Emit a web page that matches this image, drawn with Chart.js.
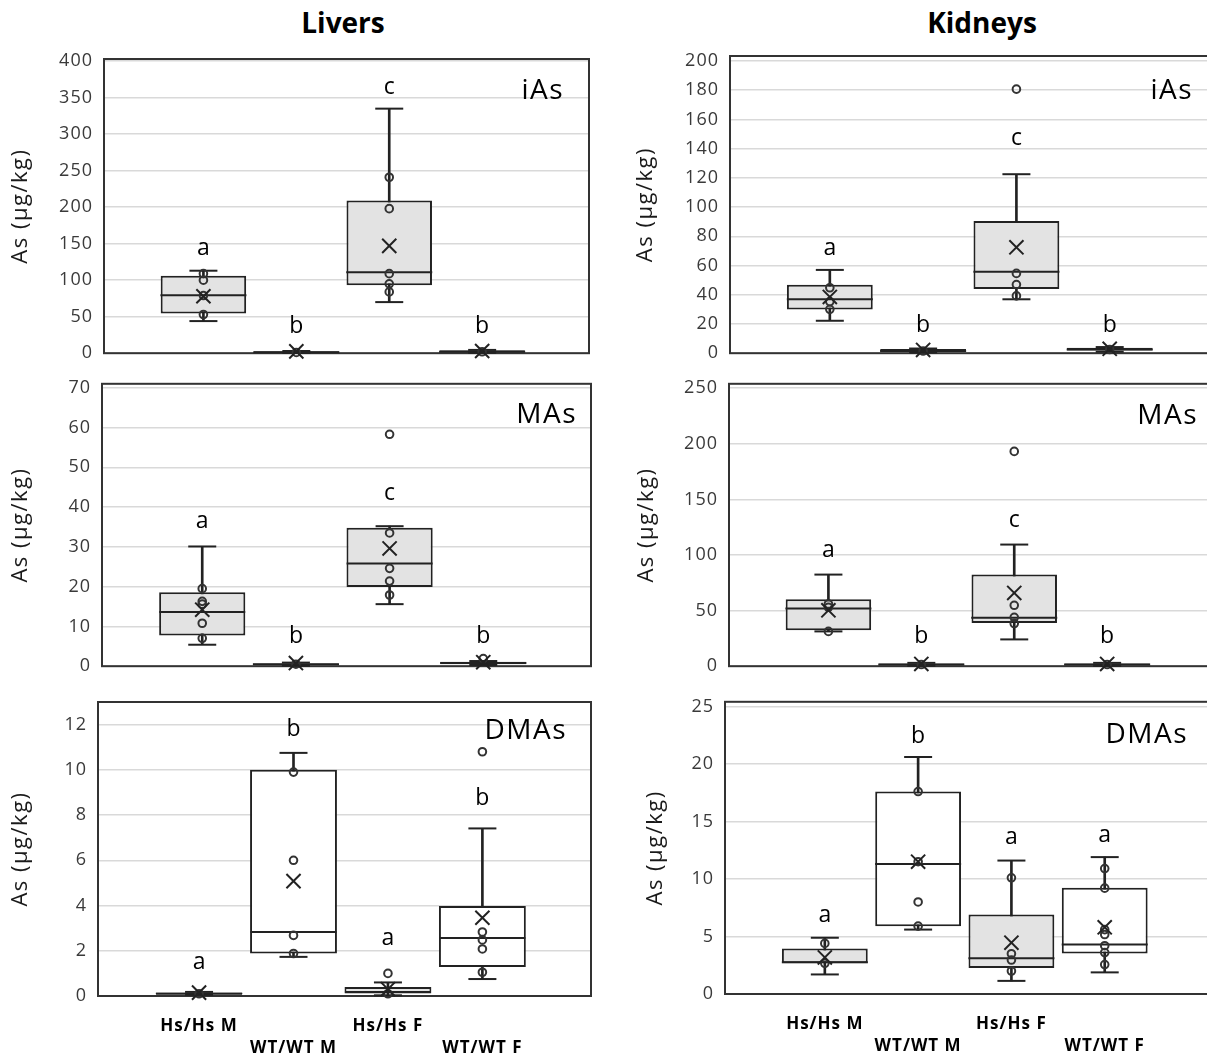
<!DOCTYPE html>
<html>
<head>
<meta charset="utf-8">
<script src="https://cdn.jsdelivr.net/npm/chart.js"></script>
<style>
html,body{margin:0;padding:0;background:#fff;}
#wrap{position:relative;width:1207px;height:1059px;overflow:hidden;background:#fff;}
canvas{position:absolute;}
.ttl{position:absolute;font-family:'Open Sans';font-weight:700;font-size:28px;line-height:28px;width:300px;text-align:center;color:#000;}
</style>
</head>
<body>
<div id="wrap">
  <div class="ttl" style="left:193px;top:8px">Livers</div>
  <div class="ttl" style="left:832px;top:8px">Kidneys</div>
  <canvas id="c1"></canvas><canvas id="c2"></canvas><canvas id="c3"></canvas>
  <canvas id="c4"></canvas><canvas id="c5"></canvas><canvas id="c6"></canvas>
</div>
<script>
// ---------- data ----------
const categories = ['Hs/Hs M', 'WT/WT M', 'Hs/Hs F', 'WT/WT F'];
const yTitle = 'As (µg/kg)';

// box summaries per group: [min, q1, median, q3, max]
const liversIAsBox = [[44,54.5,79.5,106,113],[0.3,0.8,1.2,2.5,3],[70,93,111,209,335],[0.5,1,2,4,4.5]];
const liversIAsMean = [78, 2.5, 147, 3];
const liversIAsPoints = [[109,100,79,53],[1],[241,198,109,95,84],[2]];
const liversIAsLetters = ['a','b','c','b'];
const liversIAsLetterY = [143,36,364,36];

const liversMAsBox = [[5.4,7.7,13.6,18.6,30.1],[0.1,0.25,0.5,0.7,0.9],[15.6,19.9,25.8,34.8,35.2],[0.3,0.5,0.8,1.1,1.3]];
const liversMAsMean = [14.2, 0.8, 29.6, 1];
const liversMAsPoints = [[19.5,16.3,15.6,10.8,7.0],[0.5],[58.3,33.5,24.6,21.4,17.9],[1.9]];
const liversMAsLetters = ['a','b','c','b'];
const liversMAsLetterY = [36.5,7.4,43.5,7.4];

const liversDMAsBox = [[0.05,0.08,0.1,0.16,0.18],[1.73,1.88,2.83,10.0,10.75],[0.03,0.11,0.18,0.4,0.6],[0.75,1.28,2.56,3.98,7.41]];
const liversDMAsMean = [0.15, 5.08, 0.3, 3.46];
const liversDMAsPoints = [[0.1],[9.9,6.0,2.68,1.88],[1.0,0.1],[10.8,2.83,2.48,2.08,1.05]];
const liversDMAsLetters = ['a','b','a','b'];
const liversDMAsLetterY = [1.5,11.8,2.56,8.72];

const kidneysIAsBox = [[22.2,29.9,36.9,46.9,57],[0.5,1,1.5,2.8,3.2],[36.9,43.9,55.7,90.4,122.5],[1,1.8,2.5,3.8,4.2]];
const kidneysIAsMean = [38.5, 2.2, 72.5, 3];
const kidneysIAsPoints = [[44.8,35.3,30],[1.5],[180.7,54.6,47,39.2],[2.5]];
const kidneysIAsLetters = ['a','b','c','b'];
const kidneysIAsLetterY = [72,18.8,147,18.8];

const kidneysMAsBox = [[31.3,32.4,52,60.2,82.4],[0.3,0.8,1.5,2.5,3],[24.1,38.9,43.5,82.4,109.4],[0.3,0.8,1.5,2.5,3]];
const kidneysMAsMean = [50.3, 2, 65.9, 2];
const kidneysMAsPoints = [[56,53,31.3],[1.5],[193.2,54.8,44,38.4],[1.5]];
const kidneysMAsLetters = ['a','b','c','b'];
const kidneysMAsLetterY = [104,27,130.7,27];

const kidneysDMAsBox = [[1.7,2.67,2.76,3.95,4.89],[5.6,5.88,11.3,17.6,20.6],[1.14,2.27,3.1,6.9,11.6],[1.88,3.52,4.3,9.23,11.9]];
const kidneysDMAsMean = [3.18, 11.5, 4.46, 5.8];
const kidneysDMAsPoints = [[4.4,2.67],[17.6,11.5,8.0,5.9],[10.1,3.5,2.95,2.0],[10.9,9.2,5.6,5.17,4.2,3.6,2.56]];
const kidneysDMAsLetters = ['a','b','a','a'];
const kidneysDMAsLetterY = [6.8,22.4,13.6,13.8];

// ---------- styling / layout ----------
const INK = '#222';
const boxFill = ['#e3e3e3', '#ffffff', '#e3e3e3', '#ffffff'];

const panels = [
  {id:'c1', tag:'iAs',  box:liversIAsBox,  mean:liversIAsMean,  pts:liversIAsPoints,  letters:liversIAsLetters,  letterY:liversIAsLetterY,  yMax:403,  step:50, showX:false,
   x:0, y:30, w:600, h:345, L:104, T:59, R:589, B:356, tp:8, tagDX:460, tagDY:32},
  {id:'c2', tag:'MAs',  box:liversMAsBox,  mean:liversMAsMean,  pts:liversMAsPoints,  letters:liversMAsLetters,  letterY:liversMAsLetterY,  yMax:71,   step:10, showX:false,
   x:0, y:362, w:600, h:326, L:102, T:376, R:591, B:673, tp:8, tagDX:475, tagDY:31},
  {id:'c3', tag:'DMAs', box:liversDMAsBox, mean:liversDMAsMean, pts:liversDMAsPoints, letters:liversDMAsLetters, letterY:liversDMAsLetterY, yMax:13,   step:2,  showX:true,
   x:0, y:680, w:600, h:379, L:98, T:702, R:591, B:996, tp:8, tagDX:469, tagDY:29},
  {id:'c4', tag:'iAs',  box:kidneysIAsBox, mean:kidneysIAsMean, pts:kidneysIAsPoints, letters:kidneysIAsLetters, letterY:kidneysIAsLetterY, yMax:203.4, step:20, showX:false,
   x:600, y:30, w:630, h:345, L:730, T:56, R:1217, B:356, tp:33, tagDX:463, tagDY:35},
  {id:'c5', tag:'MAs',  box:kidneysMAsBox, mean:kidneysMAsMean, pts:kidneysMAsPoints, letters:kidneysMAsLetters, letterY:kidneysMAsLetterY, yMax:254,  step:50, showX:false,
   x:600, y:362, w:630, h:326, L:729, T:375, R:1214, B:673, tp:34, tagDX:469, tagDY:32},
  {id:'c6', tag:'DMAs', box:kidneysDMAsBox, mean:kidneysDMAsMean, pts:kidneysDMAsPoints, letters:kidneysDMAsLetters, letterY:kidneysDMAsLetterY, yMax:25.4, step:5, showX:true,
   x:600, y:680, w:630, h:379, L:725, T:699, R:1212, B:994, tp:43, tagDX:463, tagDY:33}
];
const X_AXIS_H = 60;

function makeChart(p) {
  const cv = document.getElementById(p.id);
  cv.width = p.w; cv.height = p.h;
  cv.style.left = p.x + 'px'; cv.style.top = p.y + 'px';
  cv.style.width = p.w + 'px'; cv.style.height = p.h + 'px';
  const xs = categories.map((c, i) => i + 1);
  const whisker = p.box.map((b, i) => ({x: xs[i], y: [b[0], b[4]]}));
  const boxes = p.box.map((b, i) => ({x: xs[i], y: [b[1], b[3]]}));
  const caps = [];
  p.box.forEach((b, i) => { caps.push({x: xs[i], y: b[0]}); caps.push({x: xs[i], y: b[4]}); });
  const medians = p.box.map((b, i) => ({x: xs[i], y: b[2]}));
  const means = p.mean.map((m, i) => ({x: xs[i], y: m}));
  const pts = [];
  p.pts.forEach((arr, i) => arr.forEach(v => pts.push({x: xs[i], y: v})));
  const xLabels = categories.map((c, i) => (i % 2 ? ['', c] : c));

  const deco = {
    id: 'deco',
    beforeDraw(chart) { chart.ctx.letterSpacing = '1.5px'; },
    beforeDatasetsDraw(chart) {
      const {ctx, chartArea: a} = chart;
      ctx.save();
      ctx.strokeStyle = '#333';
      ctx.lineWidth = 2;
      ctx.strokeRect(a.left, a.top, a.right - a.left, a.bottom - a.top);
      ctx.restore();
    },
    afterDatasetsDraw(chart) {
      const {ctx, chartArea: a, scales} = chart;
      ctx.save();
      ctx.letterSpacing = '0px';
      ctx.fillStyle = '#000';
      ctx.font = '23px "Open Sans"';
      ctx.textAlign = 'center';
      ctx.textBaseline = 'middle';
      p.letters.forEach((t, i) => {
        ctx.fillText(t, scales.x.getPixelForValue(xs[i]), scales.y.getPixelForValue(p.letterY[i]));
      });
      ctx.letterSpacing = '1.5px';
      ctx.font = '28px "Open Sans"';
      ctx.textAlign = 'right';
      ctx.fillText(p.tag, a.left + p.tagDX, a.top + p.tagDY);
      ctx.restore();
      ctx.letterSpacing = '1px';
    },
    afterDraw(chart) { chart.ctx.letterSpacing = '0px'; }
  };

  new Chart(cv, {
    type: 'bar',
    data: {
      datasets: [
        {type: 'bar', data: whisker, grouped: false, barThickness: 2, backgroundColor: INK, borderWidth: 0, order: 6},
        {type: 'bar', data: boxes, grouped: false, barPercentage: 0.92, categoryPercentage: 1,
         backgroundColor: boxFill, borderColor: INK, borderWidth: 2, borderSkipped: false, order: 5},
        {type: 'scatter', data: medians, pointStyle: 'line', pointRadius: 43, pointBorderColor: INK, pointBorderWidth: 2, borderColor: INK, order: 4, clip: false},
        {type: 'scatter', data: caps, pointStyle: 'line', pointRadius: 14, pointBorderColor: INK, pointBorderWidth: 2, borderColor: INK, order: 4, clip: false},
        {type: 'scatter', data: pts, pointStyle: 'circle', pointRadius: 3.8, pointBorderColor: '#333',
         pointBackgroundColor: 'rgba(255,255,255,0)', pointBorderWidth: 2, borderColor: '#333', order: 3, clip: false},
        {type: 'scatter', data: means, pointStyle: 'crossRot', pointRadius: 10, pointBorderColor: INK, pointBorderWidth: 2, borderColor: INK, order: 2, clip: false}
      ]
    },
    options: {
      responsive: false,
      animation: false,
      devicePixelRatio: 1,
      events: [],
      layout: {autoPadding: false,
               padding: {left: 0, right: p.x + p.w - p.R, top: p.T - p.y,
                         bottom: p.y + p.h - p.B - (p.showX ? X_AXIS_H : 0)}},
      plugins: {legend: {display: false}, tooltip: {enabled: false}},
      scales: {
        x: {
          type: 'linear', min: -0.07, max: 5.15, offset: false,
          display: p.showX,
          grid: {display: false, drawTicks: false},
          border: {display: false},
          afterBuildTicks: s => { s.ticks = xs.map(v => ({value: v})); },
          afterFit: s => { s.height = p.showX ? X_AXIS_H : 0; },
          ticks: {
            autoSkip: false, maxRotation: 0, minRotation: 0, padding: 19, z: 1,
            color: '#000', font: {family: 'Open Sans', size: 17, weight: 'bold', lineHeight: 1.3},
            callback: (v) => xLabels[Math.round(v) - 1]
          }
        },
        y: {
          type: 'linear', min: 0, max: p.yMax,
          afterFit: s => { s.width = p.L - p.x; },
          grid: {color: '#d9d9d9', lineWidth: 1.5, drawTicks: false},
          border: {display: false},
          ticks: {stepSize: p.step, includeBounds: false, autoSkip: false, padding: 11, z: 1,
                  color: '#3a3a3a', font: {family: 'Open Sans', size: 18}},
          title: {display: true, text: yTitle, color: '#1a1a1a',
                  font: {family: 'Open Sans', size: 22}, padding: {top: p.tp, bottom: 0}}
        }
      }
    },
    plugins: [deco]
  });
}
panels.forEach(makeChart);
</script>
</body>
</html>
